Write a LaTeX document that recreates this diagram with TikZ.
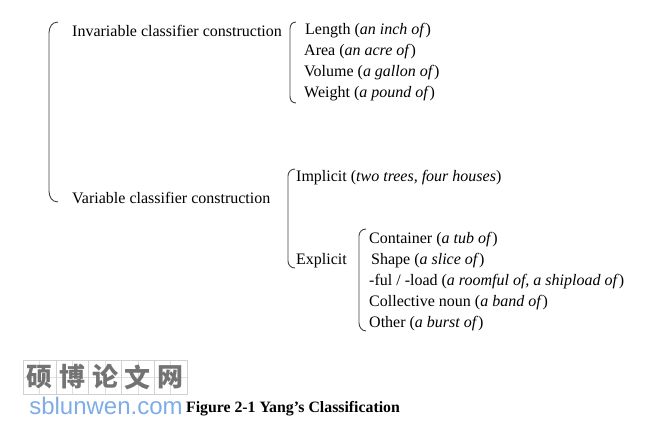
\documentclass[tikz,border=0pt]{standalone}
\usepackage{fontspec}
\setmainfont{Liberation Serif}
\newfontfamily\cjkfont{Noto Sans CJK SC}
\newfontfamily\wmsans{Liberation Sans}
\begin{document}
\begin{tikzpicture}[x=1pt,y=-1pt,
  lbl/.style={anchor=west,inner sep=0pt,font=\fontsize{16}{18}\selectfont},
  brk/.style={draw=black!75,line width=0.9pt},
  wmbox/.style={draw=black!18,line width=0.6pt,minimum width=32.8pt,minimum height=34pt,inner sep=0pt,
    path picture={\draw[black!12,line width=0.5pt] (path picture bounding box.north) -- (path picture bounding box.south) (path picture bounding box.west) -- (path picture bounding box.east);},
    font=\cjkfont\bfseries\fontsize{26}{26}\selectfont,text=black!55}]
\useasboundingbox (0,0) rectangle (646,432);
% brackets
\draw[brk] (58,22) .. controls (52,22) and (49,27) .. (49,33) -- (49,191) .. controls (49,197) and (52,202) .. (58,202);
\draw[brk] (296,22) .. controls (292,22) and (290,25) .. (290,29) -- (290,96) .. controls (290,100) and (292,103) .. (296,103);
\draw[brk] (295,169) .. controls (291,169) and (288,172) .. (288,176) -- (288,261) .. controls (288,265) and (291,268) .. (295,268);
\draw[brk] (366,229) .. controls (362,229) and (359,232) .. (359,236) -- (359,323) .. controls (359,327) and (362,331) .. (366,331);
% level 1
\node[lbl] (inv) at (72,31) {Invariable classifier construction};
\node[lbl] (var) at (72,198) {Variable classifier construction};
% invariable
\node[lbl] (len) at (305,31) {Length (\textit{an inch of})};
\node[lbl] (area) at (304,52) {Area (\textit{an acre of})};
\node[lbl] (vol) at (304,73) {Volume (\textit{a gallon of})};
\node[lbl] (wt) at (304,94) {Weight (\textit{a pound of})};
% variable
\node[lbl] (imp) at (296,178) {Implicit (\textit{two trees, four houses})};
\node[lbl] (exp) at (296,261) {Explicit};
\node[lbl] (cont) at (369,240) {Container (\textit{a tub of})};
\node[lbl] (shape) at (371,261) {Shape (\textit{a slice of})};
\node[lbl] (ful) at (369,282) {-ful / -load (\textit{a roomful of, a shipload of})};
\node[lbl] (coll) at (369,303) {Collective noun (\textit{a band of})};
\node[lbl] (oth) at (369,324) {Other (\textit{a burst of})};
% caption
\node[inner sep=0pt,font=\bfseries\fontsize{15.8}{18}\selectfont] (cap) at (293,409) {Figure 2-1 Yang’s Classification};
% watermark
\node[wmbox] (w1) at (39.4,377) {硕};
\node[wmbox] (w2) at (72.2,377) {博};
\node[wmbox] (w3) at (105,377) {论};
\node[wmbox] (w4) at (137.8,377) {文};
\node[wmbox] (w5) at (170.6,377) {网};
\node[inner sep=0pt,font=\wmsans\fontsize{24}{24}\selectfont,text={rgb,255:red,125;green,172;blue,232}] (wm) at (106,406) {sblunwen.com};
\end{tikzpicture}
\end{document}
